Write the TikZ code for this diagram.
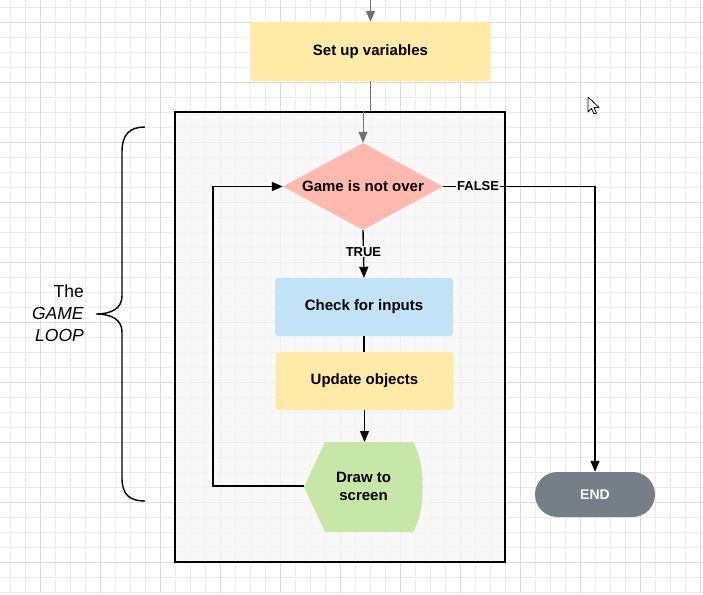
\documentclass[tikz,border=0pt]{standalone}
\usepackage{fontspec}
\setmainfont{Liberation Sans}
\usepackage{xcolor}
\usetikzlibrary{positioning}
\usetikzlibrary{shapes.geometric,arrows.meta}

\definecolor{gridminor}{HTML}{EBEBEB}
\definecolor{gridmajor}{HTML}{DADADA}
\definecolor{framefill}{HTML}{F6F6F6}
\definecolor{boxyellow}{HTML}{FFEAA8}
\definecolor{boxpink}{HTML}{FFB9AF}
\definecolor{boxblue}{HTML}{C2E3F6}
\definecolor{boxgreen}{HTML}{C7E7A8}
\definecolor{boxslate}{HTML}{767E88}
\definecolor{feedgray}{HTML}{707070}

\begin{document}
\begin{tikzpicture}[
      x=1pt, y=-1pt,
      type-process/.style={rectangle, rounded corners=3pt, minimum width=178pt, minimum height=58pt, font=\fontsize{15}{18}\selectfont\bfseries},
      type-decision/.style={diamond, aspect=1.84, inner sep=0pt, minimum width=160pt, minimum height=87pt, fill=boxpink, font=\fontsize{15}{18}\selectfont\bfseries},
      type-terminal/.style={rectangle, rounded corners=22.5pt, minimum width=120pt, minimum height=45pt, fill=boxslate, text=white, font=\fontsize{14}{17}\selectfont\bfseries},
      type-label/.style={fill=framefill, inner sep=1pt, font=\fontsize{13}{15}\selectfont\bfseries},
      flow/.style={line width=1.4pt, -{Triangle[length=11pt,width=9pt]}},
      plain/.style={line width=1.4pt},
      feed/.style={line width=1pt, draw=feedgray}
    ]
      \useasboundingbox (0,0) rectangle (703,594);
      % grid paper
      \foreach \gx in {10,25,...,700} {\draw[gridminor, line width=0.8pt] (\gx,0) -- (\gx,594);}
      \foreach \gy in {7,22,...,594} {\draw[gridminor, line width=0.8pt] (0,\gy) -- (703,\gy);}
      \foreach \gx in {40,100,...,700} {\draw[gridmajor, line width=0.9pt] (\gx,0) -- (\gx,594);}
      \foreach \gy in {22,82,...,594} {\draw[gridmajor, line width=0.9pt] (0,\gy) -- (703,\gy);}

      % the loop frame
      \node[draw, line width=1.4pt, fill=framefill, fill opacity=0.75, minimum width=330pt, minimum height=450pt, inner sep=0pt] (loopframe) at (340,337) {};

      \coordinate (start) at (370.5,0);
      \node[type-process, minimum width=240pt, minimum height=59pt, fill=boxyellow] (setup) at (370.5,51.5) {Set up variables};
      \node[type-decision] (game) at (363,186.5) {Game is not over};
      \node[type-process, fill=boxblue] (check) at (364,307) {Check for inputs};
      \node[type-process, fill=boxyellow] (update) at (364.5,381) {Update objects};

      % display shape
      \fill[boxgreen] (304,487) -- (325,442) -- (413,442) .. controls (426,462) and (426,512) .. (413,532) -- (325,532) -- cycle;
      \node[minimum width=119pt, minimum height=90pt, inner sep=0pt, align=center, font=\fontsize{15}{18}\selectfont\bfseries] (render) at (363.5,486) {Draw to\\screen};

      \node[type-terminal] (endnode) at (595,494.5) {END};

      % connectors
      \draw[feed, -{Triangle[length=11pt,width=9pt]}, draw=feedgray, fill=feedgray] (start) -- (setup.north);
      \draw[feed] (setup.south) -- (setup.south |- loopframe.north);
      \draw[feed, -{Triangle[length=11pt,width=9pt]}, fill=feedgray] (game.north |- loopframe.north) -- (game.north);
      \draw[flow] (game.south) -- node[type-label, pos=0.45] {TRUE} (check.north);
      \draw[plain] (check.south) -- (check.south |- update.north);
      \draw[flow] (update.south) -- (update.south |- 0,442);
      \draw[flow] (game.east) -- node[type-label, pos=0.23] {FALSE} (game.east -| endnode.north) -- (endnode.north);
      \draw[flow] (render.west) -- ++(-91,0) |- (game.west);

      % brace and its label
      \draw[line width=1.4pt] (145,127) .. controls (130,127) and (122,134) .. (122,152) -- (122,296)
        .. controls (122,308) and (112,314) .. (96,314)
        .. controls (112,314) and (122,320) .. (122,332) -- (122,478)
        .. controls (122,495) and (130,501) .. (145,501);
      \node[anchor=east, align=right, inner sep=0pt, font=\fontsize{17.5}{22}\selectfont] (looplabel) at (84,313) {The\\\textit{GAME}\\\textit{LOOP}};

      % mouse pointer
      \filldraw[fill=white, line width=0.8pt, line join=round] (588,97) -- (588,112) -- (591.5,108.5) -- (594,114) -- (596.5,113) -- (594,107.5) -- (599,107.5) -- cycle;
    \end{tikzpicture}
\end{document}
